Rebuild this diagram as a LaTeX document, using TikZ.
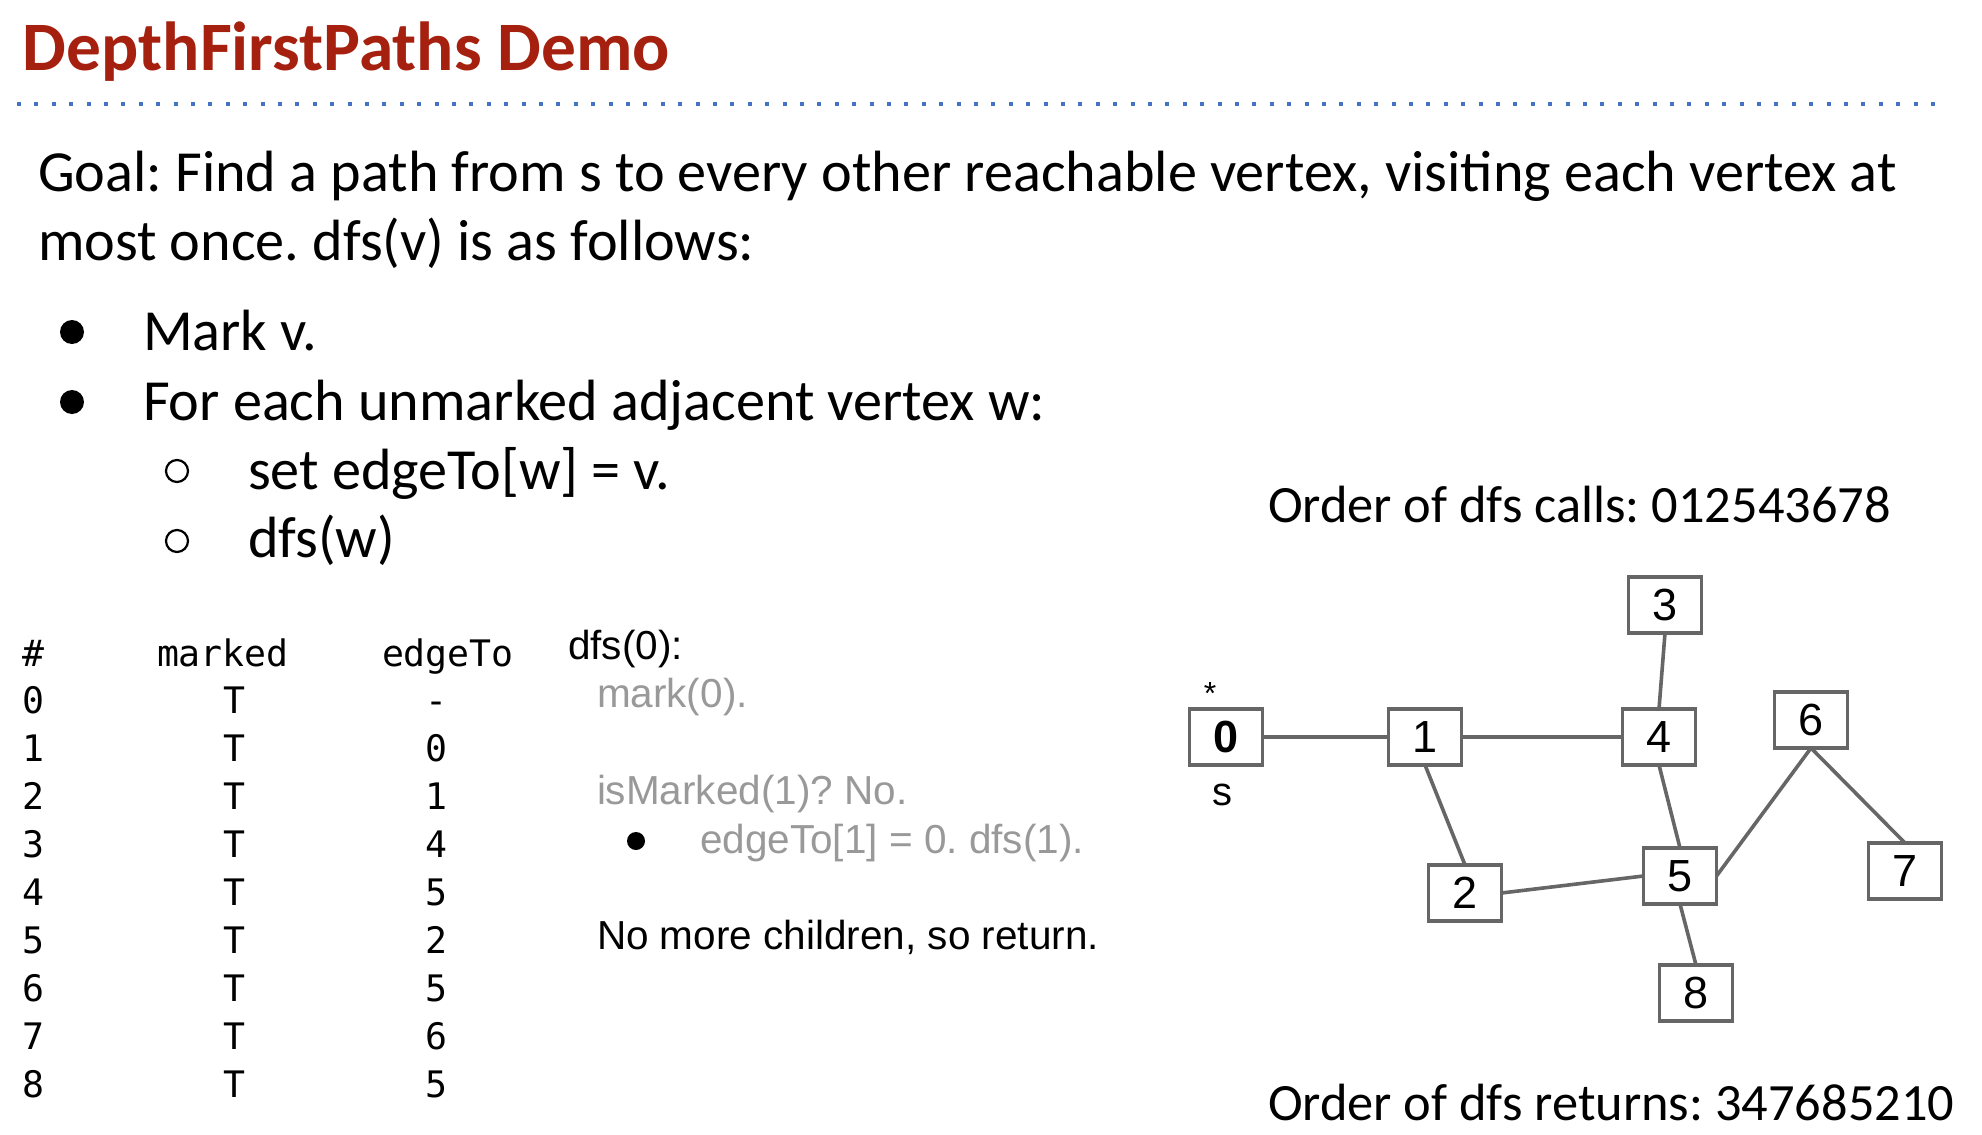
\documentclass[tikz,border=0pt]{standalone}
\usepackage{fontspec}
\setmainfont{Carlito}
\newfontfamily\arialfont{Liberation Sans}
\newfontfamily\monofont{DejaVu Sans Mono}
\definecolor{titlered}{RGB}{165,32,15}
\definecolor{ruleblue}{RGB}{68,114,196}
\definecolor{edgegray}{RGB}{102,102,102}
\definecolor{tracegray}{RGB}{153,153,153}
\newcommand\fsz[1]{\fontsize{#1}{#1}\selectfont}
\frenchspacing

\begin{document}
\begin{tikzpicture}[x=1pt,y=-1pt,
  every node/.style={inner sep=0pt, outer sep=0pt},
  titletext/.style={anchor=base west, font=\fsz{69.4}\bfseries, text=titlered},
  bodytext/.style={anchor=base west, font=\fsz{58.2}},
  ordertext/.style={anchor=base west, font=\fsz{52.4}},
  tabtext/.style={anchor=base west, font=\monofont\fsz{36.5}},
  tabcell/.style={anchor=base, font=\monofont\fsz{36.5}},
  tracetext/.style={anchor=base west, font=\arialfont\fsz{40.5}},
  vbox/.style={draw=edgegray, line width=3.6pt, minimum width=73pt,
    minimum height=56pt, font=\arialfont\fsz{45}, fill=white},
  gedge/.style={draw=edgegray, line width=3.6pt},
  dotbullet/.style={fill=black, circle, minimum size=#1},
  ringbullet/.style={draw=black, line width=2.2pt, circle, minimum size=#1},
]
\useasboundingbox (0,0) rectangle (1982,1135);

% heading and dotted rule
\node[titletext] (title) at (23,70) {DepthFirstPaths Demo};
\draw[ruleblue, line width=4pt, dash pattern=on 4pt off 13.4pt]
  (17,104) -- (1942,104);

% goal statement
\node[bodytext] (goal1) at (38,191)
  {Goal: Find a path from s to every other reachable vertex, visiting each vertex at};
\node[bodytext] (goal2) at (38,260) {most once. dfs(v) is as follows:};
\node[dotbullet=24pt] (b1) at (72,332) {};
\node[bodytext] (mark) at (143,350) {Mark v.};
\node[dotbullet=24pt] (b2) at (72,402) {};
\node[bodytext] (foreach) at (143,420) {For each unmarked adjacent vertex w:};
\node[ringbullet=22pt] (b3) at (177,471) {};
\node[bodytext] (setedge) at (248,489) {set edgeTo[w] = v.};
\node[ringbullet=22pt] (b4) at (177,541) {};
\node[bodytext] (dfsw) at (248,557) {dfs(w)};

% marked / edgeTo table
\node[tabtext] (hnum) at (23,666) {\#};
\node[tabtext] (hmarked) at (157,666) {marked};
\node[tabtext] (hedge) at (382,666) {edgeTo};
\foreach \v/\e [count=\i from 0] in {0/-,1/0,2/1,3/4,4/5,5/2,6/5,7/6,8/5} {
  \node[tabtext] (num\i) at (23,713+48*\i) {\v};
  \node[tabcell] (mk\i) at (234,713+48*\i) {T};
  \node[tabcell] (et\i) at (436,713+48*\i) {\e};
}

% trace of the current call
\node[tracetext] (call) at (568,659) {dfs(0):};
\node[tracetext, text=tracegray] (markzero) at (597,707) {mark(0).};
\node[tracetext, text=tracegray] (ismarked) at (597,804) {isMarked(1)? No.};
\node[dotbullet=18pt] (b5) at (636,841) {};
\node[tracetext, text=tracegray] (recurse) at (700,853) {edgeTo[1] = 0. dfs(1).};
\node[tracetext] (done) at (597,949) {No more children, so return.};

% call / return orders
\node[ordertext] (calls) at (1268,522) {Order of dfs calls: 012543678};
\node[ordertext] (returns) at (1268,1120) {Order of dfs returns: 347685210};

% graph
\node[vbox, font=\arialfont\fsz{45}\bfseries] (v0) at (1226,737) {0};
\node[vbox] (v1) at (1425,737) {1};
\node[vbox] (v4) at (1659,737) {4};
\node[vbox] (v3) at (1665,605) {3};
\node[vbox] (v6) at (1811,720) {6};
\node[vbox] (v2) at (1465,893) {2};
\node[vbox] (v5) at (1680,876) {5};
\node[vbox] (v7) at (1905,871) {7};
\node[vbox] (v8) at (1696,993) {8};
\node[font=\arialfont\fsz{32}] (star) at (1210,693) {*};
\node[font=\arialfont\fsz{40}] (src) at (1222,795) {s};

\draw[gedge] (v0.east) -- (v1.west);
\draw[gedge] (v1.east) -- (v4.west);
\draw[gedge] (v3.south) -- (v4.north);
\draw[gedge] (v1.south) -- (v2.north);
\draw[gedge] (v4.south) -- (v5.north);
\draw[gedge] (v2.east) -- (v5.west);
\draw[gedge] (v5.east) -- (v6.south);
\draw[gedge] (v6.south) -- (v7.north);
\draw[gedge] (v5.south) -- (v8.north);
\end{tikzpicture}
\end{document}
